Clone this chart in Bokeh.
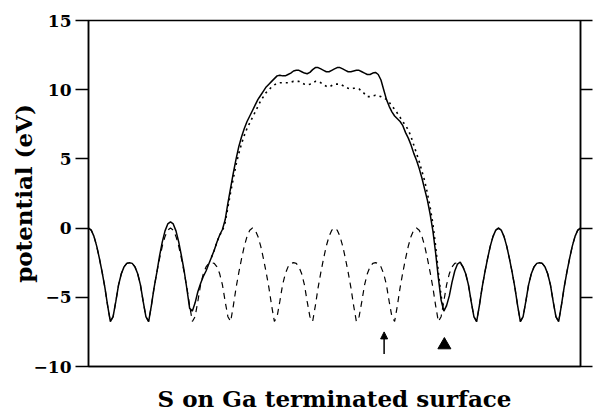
import numpy as np
from bokeh.plotting import figure
from bokeh.models import Range1d, LinearAxis, FixedTicker, Arrow, NormalHead, CustomJSTickFormatter
from bokeh.embed import file_html
from bokeh.resources import INLINE

# ---- data ----
# position along the slab, in bulk periods; 30 samples per period
position = np.linspace(0, 6, 181)

# bulk potential (dashed)
bulk_ev = [
    0.0, -0.15, -0.6, -1.3, -2.2, -3.2, -4.3, -5.6, -6.75, -6.4, -5.3, -4.1, -3.3, -2.8, -2.55, -2.5, -2.55, -2.8, -3.3, -4.1, -5.3, -6.4, -6.75, -5.6, -4.3, -3.2, -2.2, -1.3, -0.6, -0.15,
    0.0, -0.15, -0.6, -1.3, -2.2, -3.2, -4.3, -5.6, -6.75, -6.4, -5.3, -4.1, -3.3, -2.8, -2.55, -2.5, -2.55, -2.8, -3.3, -4.1, -5.3, -6.4, -6.75, -5.6, -4.3, -3.2, -2.2, -1.3, -0.6, -0.15,
    0.0, -0.15, -0.6, -1.3, -2.2, -3.2, -4.3, -5.6, -6.75, -6.4, -5.3, -4.1, -3.3, -2.8, -2.55, -2.5, -2.55, -2.8, -3.3, -4.1, -5.3, -6.4, -6.75, -5.6, -4.3, -3.2, -2.2, -1.3, -0.6, -0.15,
    0.0, -0.15, -0.6, -1.3, -2.2, -3.2, -4.3, -5.6, -6.75, -6.4, -5.3, -4.1, -3.3, -2.8, -2.55, -2.5, -2.55, -2.8, -3.3, -4.1, -5.3, -6.4, -6.75, -5.6, -4.3, -3.2, -2.2, -1.3, -0.6, -0.15,
    0.0, -0.15, -0.6, -1.3, -2.2, -3.2, -4.3, -5.6, -6.75, -6.4, -5.3, -4.1, -3.3, -2.8, -2.55, -2.5, -2.55, -2.8, -3.3, -4.1, -5.3, -6.4, -6.75, -5.6, -4.3, -3.2, -2.2, -1.3, -0.6, -0.15,
    0.0, -0.15, -0.6, -1.3, -2.2, -3.2, -4.3, -5.6, -6.75, -6.4, -5.3, -4.1, -3.3, -2.8, -2.55, -2.5, -2.55, -2.8, -3.3, -4.1, -5.3, -6.4, -6.75, -5.6, -4.3, -3.2, -2.2, -1.3, -0.6, -0.15,
    0.0,
]

# full slab potential (solid)
slab_ev = [
    0.0, -0.15, -0.6, -1.3, -2.2, -3.2, -4.3, -5.6, -6.75, -6.4, -5.3, -4.1, -3.3, -2.8, -2.55, -2.5, -2.55, -2.8, -3.3, -4.1, -5.3, -6.4, -6.75, -5.6, -4.3, -3.2, -2.0, -1.0, -0.2, 0.3,
    0.45, 0.3, -0.2, -1.0, -2.0, -3.1, -4.4, -5.8, -6.0, -5.4, -4.6, -4.0, -3.5, -3.1, -2.6, -2.1, -1.6, -1.0, -0.5, -0.1, 0.6, 1.8, 2.9, 4.0, 5.0, 5.9, 6.6, 7.2, 7.7, 8.1,
    8.5, 8.9, 9.3, 9.6, 9.9, 10.2, 10.4, 10.6, 10.8, 11.0, 11.05, 11.0, 11.0, 11.1, 11.2, 11.35, 11.4, 11.4, 11.3, 11.2, 11.15, 11.25, 11.45, 11.6, 11.6, 11.5, 11.4, 11.3, 11.3, 11.4,
    11.5, 11.6, 11.6, 11.5, 11.4, 11.3, 11.3, 11.35, 11.4, 11.4, 11.3, 11.2, 11.1, 11.1, 11.2, 11.25, 11.1, 10.7, 10.0, 9.3, 8.8, 8.4, 8.1, 7.9, 7.7, 7.4, 6.9, 6.5, 6.0, 5.4,
    4.9, 4.3, 3.6, 2.8, 2.0, 1.0, -0.2, -1.8, -3.6, -5.2, -6.0, -5.6, -4.9, -3.9, -3.1, -2.6, -2.45, -2.8, -3.3, -4.1, -5.3, -6.4, -6.75, -5.6, -4.3, -3.2, -2.2, -1.3, -0.6, -0.15,
    0.0, -0.15, -0.6, -1.3, -2.2, -3.2, -4.3, -5.6, -6.75, -6.4, -5.3, -4.1, -3.3, -2.8, -2.55, -2.5, -2.55, -2.8, -3.3, -4.1, -5.3, -6.4, -6.75, -5.6, -4.3, -3.2, -2.2, -1.3, -0.6, -0.15,
    0.0,
]

# second slab potential (dotted), samples 45..131 of the same grid
dotted_start, dotted_stop = 45, 132
dotted_ev = [
    -2.1, -1.6, -1.0, -0.5, -0.2, 0.4, 1.5, 2.6, 3.6, 4.6, 5.4, 6.1, 6.7, 7.2, 7.6,
    8.0, 8.4, 8.8, 9.2, 9.5, 9.8, 10.0, 10.2, 10.35, 10.45, 10.5, 10.5, 10.5, 10.5, 10.55, 10.6, 10.6, 10.6, 10.5, 10.4, 10.35, 10.4, 10.5, 10.6, 10.6, 10.5, 10.35, 10.25, 10.2, 10.3,
    10.4, 10.4, 10.4, 10.3, 10.2, 10.1, 10.05, 10.1, 10.1, 10.05, 9.9, 9.7, 9.5, 9.5, 9.55, 9.6, 9.55, 9.5, 9.4, 9.3, 9.1, 8.8, 8.6, 8.3, 8.0, 7.7, 7.4, 7.1, 6.6, 6.0,
    5.4, 4.8, 4.1, 3.4, 2.5, 1.5, 0.3, -1.3, -3.2, -4.9, -5.9, -5.6,
]

# markers below the curves
arrow_x = [3.605]
arrow_y = [-9.1, -7.5]      # tail, tip
triangle_x = [4.34]
triangle_y = [-8.45]

y_ticks = [-10, -5, 0, 5, 10, 15]
y_tick_labels = {-10: "\u221210", -5: "\u22125", 0: "0", 5: "5", 10: "10", 15: "15"}

x_title = "S on Ga terminated surface"
y_title = "potential (eV)"

# ---- figure ----
FONT = "DejaVu Serif"
p = figure(frame_width=492, frame_height=346,
           x_range=Range1d(0, 6), y_range=Range1d(-10, 15),
           output_backend="svg", toolbar_location=None,
           min_border_left=88, min_border_right=15, min_border_top=20, min_border_bottom=45)
p.xgrid.visible = False
p.ygrid.visible = False
p.outline_line_color = "black"
p.outline_line_width = 1.5
p.background_fill_color = "white"
p.border_fill_color = "white"

# bottom axis: no ticks, only the title
xa = p.xaxis[0]
xa.ticker = FixedTicker(ticks=[])
xa.major_label_standoff = 0
xa.major_tick_out = 0
xa.minor_tick_out = 0
xa.axis_line_width = 1.5
xa.axis_line_color = "black"
xa.axis_label = x_title
xa.axis_label_text_font = FONT
xa.axis_label_text_font_style = "bold"
xa.axis_label_text_font_size = "23px"
xa.axis_label_text_color = "black"
xa.axis_label_standoff = 18

ya = p.yaxis[0]
ya.ticker = FixedTicker(ticks=y_ticks)
ya.major_label_overrides = y_tick_labels
ya.major_label_text_font = FONT
ya.major_label_text_font_style = "bold"
ya.major_label_text_font_size = "17px"
ya.major_label_text_color = "black"
ya.major_label_standoff = 4
ya.major_tick_out = 13
ya.major_tick_in = 0
ya.minor_tick_out = 0
ya.minor_tick_in = 0
ya.major_tick_line_width = 1.5
ya.major_tick_line_color = "black"
ya.axis_line_width = 1.5
ya.axis_line_color = "black"
ya.axis_label = y_title
ya.axis_label_text_font = FONT
ya.axis_label_text_font_style = "bold"
ya.axis_label_text_font_size = "23px"
ya.axis_label_text_color = "black"
ya.axis_label_standoff = -6

# right axis: outward ticks only
ra = LinearAxis(ticker=FixedTicker(ticks=y_ticks),
                formatter=CustomJSTickFormatter(code="return ''"))
ra.major_label_standoff = 0
ra.major_tick_out = 12
ra.major_tick_in = 0
ra.minor_tick_out = 0
ra.minor_tick_in = 0
ra.major_tick_line_width = 1.5
ra.major_tick_line_color = "black"
ra.axis_line_width = 1.5
ra.axis_line_color = "black"
p.add_layout(ra, "right")

# ---- curves ----
p.line(position, bulk_ev, line_color="black", line_width=1.2, line_dash="6 5")
p.line(position[dotted_start:dotted_stop], dotted_ev, line_color="black", line_width=1.6, line_dash="2 4")
p.line(position, slab_ev, line_color="black", line_width=1.5)

# ---- markers ----
p.add_layout(Arrow(end=NormalHead(size=7, fill_color="black", line_color="black", line_width=1),
                   x_start=arrow_x[0], y_start=arrow_y[0], x_end=arrow_x[0], y_end=arrow_y[1],
                   line_color="black", line_width=1.5))
p.scatter(triangle_x, triangle_y, marker="triangle", size=13, fill_color="black", line_color="black")

open("out.html", "w").write(file_html(p, INLINE))
